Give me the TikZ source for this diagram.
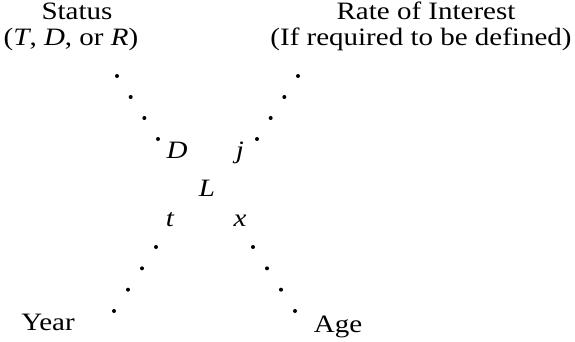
\documentclass[tikz,border=0pt]{standalone}
\usepackage{fontspec}
\setmainfont[FakeStretch=1.16]{Liberation Serif}
\usetikzlibrary{calc}

\tikzset{
  lbl/.style={anchor=base,inner sep=0pt,font=\fontsize{25}{29}\selectfont},
  sym/.style={anchor=base,inner sep=0pt,font=\fontsize{25}{29}\selectfont\itshape}
}

\begin{document}
\begin{tikzpicture}[x=1pt,y=1pt]
\useasboundingbox (0,0) rectangle (575,341);
% labels at the four ends
\node[lbl] (status) at (77,322) {Status};
\node[lbl] (trd) at (71,296) {(\textit{T}, \textit{D}, or \textit{R})};
\node[lbl] (rate) at (426,322) {Rate of Interest};
\node[lbl] (ifreq) at (421,296) {(If required to be defined)};
\node[lbl] (year) at (48,11) {Year};
\node[lbl] (age) at (338,9) {Age};
% symbols round the centre
\node[sym] (d) at (177,183) {D};
\node[sym] (j) at (240,183) {j};
\node[sym] (l) at (207,145) {L};
\node[sym] (t) at (170,115) {t};
\node[sym] (x) at (240,115) {x};
% dotted arms
\coordinate (ula) at (117,265);
\coordinate (ulb) at (158,202);
\coordinate (ura) at (298,265);
\coordinate (urb) at (257,202);
\coordinate (lla) at (156,94);
\coordinate (llb) at (114,30);
\coordinate (lra) at (253,94);
\coordinate (lrb) at (295,30);
\foreach \a/\b in {ula/ulb,ura/urb,lla/llb,lra/lrb}
  \foreach \i in {0,...,3}
    \fill ($(\a)!\i/3!(\b)$) circle (2);
\end{tikzpicture}
\end{document}
